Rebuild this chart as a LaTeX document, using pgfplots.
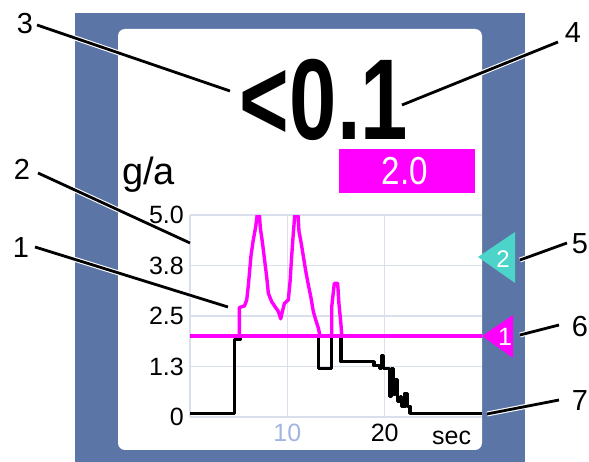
\documentclass[border=0pt]{standalone}
\usepackage{fontspec}
\setmainfont{Liberation Sans}
\usepackage{graphicx}
\usepackage{pgfplots}
\pgfplotsset{compat=1.18}
\definecolor{frameblue}{HTML}{5B75A6}
\definecolor{cyantri}{HTML}{4CD3CA}
\definecolor{gridc}{HTML}{DADFEE}
\definecolor{tenblue}{HTML}{A3B5E3}
\definecolor{mag}{RGB}{255,0,255}
\begin{document}
\begin{tikzpicture}
\useasboundingbox (0,0) rectangle (589bp,462bp);
\begin{scope}[x=1bp,y=-1bp,shift={(0bp,462bp)}]
\fill[frameblue] (75,13) rectangle (525,462);
\fill[white, rounded corners=7bp] (118,29) rectangle (482,450);
\end{scope}
\begin{axis}[at={(190bp,45bp)}, anchor=south west, scale only axis,
  width=292bp, height=202bp, xmin=0, xmax=30, ymin=0, ymax=5,
  axis line style={draw=none}, tick style={draw=none}, major tick length=0pt,
  xtick={0,10,20}, xticklabels={,\textcolor{tenblue}{10},20},
  ytick={0,1.25,2.5,3.75,5}, yticklabels={0,1.3,2.5,3.8,5.0},
  grid=major, major grid style={gridc, line width=1.6bp},
  /pgf/number format/assume math mode=true,
  yticklabel style={anchor=east, inner sep=0pt, xshift=-6bp, font=\fontsize{25bp}{30bp}\selectfont},
  xticklabel style={anchor=north, inner sep=0pt, yshift=-7bp, font=\fontsize{25bp}{30bp}\selectfont},
  clip=true]
\addplot[black, line width=3.3bp, line join=round] coordinates {
(0,0.09) (4.56,0.09) (4.56,1.92) (5.14,1.92) (5.14,2.0) (13.2,2.0) (13.2,1.2) (14.56,1.2) (14.56,2.0) (15.5,2.0) (15.5,1.37) (18.9,1.37) (18.9,1.27) (19.5,1.27) (19.5,1.2) (19.7,1.2) (19.7,1.53) (19.85,1.53) (19.85,1.2) (20.5,1.2) (20.5,0.5) (20.7,0.5) (20.7,1.2) (20.9,1.2) (20.9,0.55) (21.1,0.55) (21.1,0.92) (21.3,0.92) (21.3,0.38) (21.6,0.38) (21.6,0.5) (21.75,0.5) (21.75,0.26) (22.1,0.26) (22.1,0.59) (22.35,0.59) (22.35,0.26) (22.6,0.26) (22.6,0.09) (30,0.09)};
\addplot[mag, line width=3.8bp] coordinates {(0,2.0) (30,2.0)};
\addplot[mag, line width=3.4bp, line join=round] coordinates {
(5.07,2.0) (5.07,2.71) (5.6,2.75) (5.83,2.9) (6.0,3.27) (6.27,4.0) (6.5,4.38) (6.75,4.71) (6.95,5.1) (7.1,5.1) (7.23,4.67) (7.43,4.34) (7.64,3.93) (7.88,3.47) (8.05,3.06) (8.4,2.85) (8.74,2.73) (9.08,2.61) (9.32,2.43) (9.49,2.61) (9.7,2.81) (10.1,2.9) (10.28,3.35) (10.45,4.0) (10.6,4.5) (10.8,5.1) (11.07,5.1) (11.2,4.59) (11.4,4.34) (11.65,3.97) (11.9,3.6) (12.16,3.27) (12.44,2.94) (12.67,2.61) (12.92,2.4) (13.19,2.2) (13.36,2.0) (14.56,2.0) (14.56,2.73) (14.83,3.31) (15.17,3.31) (15.3,2.81) (15.5,2.32) (15.6,2.0)};
\end{axis}
\begin{scope}[x=1bp,y=-1bp,shift={(0bp,462bp)}]
\node[anchor=base west, inner sep=0pt, font=\fontsize{25bp}{30bp}\selectfont] at (432,445) {sec};
\fill[cyantri] (478,257) -- (515,232) -- (515,283) -- cycle;
\node[white, inner sep=0pt, font=\fontsize{24bp}{24bp}\selectfont] at (503,259) {2};
\fill[mag] (482,336) -- (513,315) -- (513,358) -- cycle;
\node[white, inner sep=0pt, font=\fontsize{25bp}{25bp}\selectfont] at (505,337) {1};
\node[anchor=base, inner sep=0pt] at (324,140) {\scalebox{0.74}[1]{\fontsize{115bp}{115bp}\selectfont\bfseries <0.1}};
\fill[mag] (339,149) rectangle (475,193);
\node[white, inner sep=0pt] at (405,171) {\scalebox{0.85}[1]{\fontsize{39bp}{39bp}\selectfont 2.0}};
\node[anchor=base west, inner sep=0pt, font=\fontsize{38bp}{38bp}\selectfont] at (122,185) {g/a};
\tikzset{co/.style={line width=2.8bp, preaction={draw=white, line width=5bp}}}
\draw[co] (37,25) -- (230,91);
\draw[co] (402,105) -- (558,42);
\draw[co] (38,173) -- (190,243);
\draw[co] (35,247) -- (228,307);
\draw[co] (520,260) -- (567,243);
\draw[co] (520,335) -- (559,325);
\draw[co] (487,414) -- (559,400);
\begin{scope}[every node/.style={inner sep=0pt, font=\fontsize{29bp}{29bp}\selectfont}]
\node at (25,24) {3};
\node at (22,169) {2};
\node at (21,248) {1};
\node at (573,33) {4};
\node at (580,244) {5};
\node at (580,327) {6};
\node at (580,401) {7};
\end{scope}
\end{scope}
\end{tikzpicture}
\end{document}
